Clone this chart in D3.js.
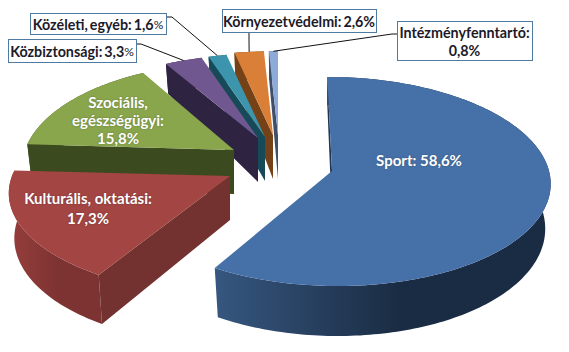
<!DOCTYPE html>
<html>
<head>
<meta charset="utf-8">
<script src="https://cdn.jsdelivr.net/npm/d3@7"></script>
<style>
  html, body { margin: 0; padding: 0; background: #fff; }
  svg { display: block; }
  text { font-family: Lato, "Open Sans", sans-serif; font-weight: 700; text-anchor: middle; dominant-baseline: central; }
  .inner { fill: #fff; font-size: 15px; text-shadow: 0 0 2px rgba(40,40,40,.4); }
  .boxed { fill: #1c1a2a; font-size: 14.3px; word-spacing: -1.5px; }
</style>
</head>
<body>
<svg id="chart" width="569" height="352"></svg>
<script>
'use strict';

const categories = ['Sport', 'Kulturális, oktatási', 'Szociális, egészségügyi', 'Közbiztonsági', 'Közéleti, egyéb', 'Környezetvédelmi', 'Intézményfenntartó'];
const shares = [58.6, 17.3, 15.8, 3.3, 1.6, 2.6, 0.8];

const topColors = ['#4671a8', '#a34543', '#8aa64c', '#71578f', '#3d95ad', '#d97f38', '#8eaad8'];
const faceColors = ['#1f3550', '#733130', '#3c4a20', '#2e2340', '#164a58', '#744216', '#414f68'];
const sideLeft = ['#36577f', '#963e3c', '#3c4a20', '#2e2340', '#164a58', '#744216', '#414f68'];
const sideRight = ['#1a2c43', '#7c3331', '#3c4a20', '#2e2340', '#164a58', '#744216', '#414f68'];

// where each exploded slice sits
const apexX = [332, 230, 234, 258, 265, 273, 278];
const apexY = [171, 176, 150, 138, 137, 135, 135];
const radiusX = [217, 218, 209, 212, 212, 212, 212];
const radiusY = [103.5, 98.5, 102, 98, 98, 98, 98];
const tilt = [0.1, 0.17, 0.17, 0.17, 0.17, 0.17, 0.17];
const shear = [0.05, 0, 0, 0, 0, 0, 0];

const innerLabels = [
  { i: 0, x: 419, lines: [[160, 'Sport: ' + pct(0)]] },
  { i: 1, x: 88, lines: [[198, 'Kulturális, oktatási:'], [218, pct(1)]] },
  { i: 2, x: 118, lines: [[102, 'Szociális,'], [120, 'egészségügyi:'], [138, pct(2)]] }
];
const boxLabels = [
  { i: 3, box: [8, 39, 128, 23], y: 51, line: [[136, 44], [141, 44]], small: true },
  { i: 4, box: [30, 13, 136, 21], y: 24, line: [[166, 17], [172, 17]], small: true },
  { i: 5, box: [222, 9, 154, 23], y: 21, line: [[249, 32], [249, 40]], small: false },
  { i: 6, box: [397, 21, 135, 39], y: 32, line: [[397, 34], [392, 34]], small: false, wrap: true }
];

function pct(i) {
  return shares[i].toFixed(1).replace('.', ',') + '%';
}

const svg = d3.select('#chart');
const defs = svg.append('defs');

const pie = d3.pie().sort(null).value(d => d).startAngle(0).endAngle(2 * Math.PI);
const arcs = pie(shares);

const depth = d3.scaleLinear().domain([-1, 0, 1]).range([50, 44, 28]);
const line = d3.line();

function topPoint(i, a) {
  const c = Math.cos(a), s = Math.sin(a);
  const p = 1 / (1 + tilt[i] * c);
  const X = radiusX[i] * s * p, Y = -radiusY[i] * c * p;
  return [apexX[i] + X + shear[i] * Y, apexY[i] + Y];
}

function bottomPoint(i, a) {
  const c = Math.cos(a), s = Math.sin(a);
  const p = 1 / (1 + tilt[i] * c);
  const X = radiusX[i] * s * p, Y = -radiusY[i] * c * p;
  return [apexX[i] + 0.975 * X + shear[i] * Y, apexY[i] + Y + depth(c)];
}

function sampleAngles(arc) {
  const n = Math.max(4, Math.ceil((arc.endAngle - arc.startAngle) / 0.02));
  return d3.range(n + 1).map(k => arc.startAngle + (arc.endAngle - arc.startAngle) * k / n);
}

// back slices first, sport last
d3.range(arcs.length - 1, -1, -1).forEach(i => {
  const arc = arcs[i];
  const angles = sampleAngles(arc);
  const apexTop = [apexX[i], apexY[i]];
  const apexBottom = [apexX[i], apexY[i] + depth(0)];
  const g = svg.append('g').attr('class', 'slice');

  const grad = defs.append('linearGradient').attr('id', 'side' + i);
  grad.append('stop').attr('offset', '0%').attr('stop-color', sideLeft[i]);
  grad.append('stop').attr('offset', '55%').attr('stop-color', sideRight[i]);

  // face along the start edge
  g.append('path')
    .attr('d', line([apexTop, topPoint(i, arc.startAngle), bottomPoint(i, arc.startAngle), apexBottom]) + 'Z')
    .attr('fill', faceColors[i]);

  // rim
  const rim = angles.map(a => topPoint(i, a)).concat(angles.slice().reverse().map(a => bottomPoint(i, a)));
  g.append('path')
    .attr('d', line(rim) + 'Z')
    .attr('fill', 'url(#side' + i + ')');

  // top
  g.append('path')
    .attr('d', line([apexTop].concat(angles.map(a => topPoint(i, a)))) + 'Z')
    .attr('fill', topColors[i]);
});

innerLabels.forEach(l => {
  l.lines.forEach(d => {
    svg.append('text').attr('class', 'inner').attr('x', l.x).attr('y', d[0]).text(d[1]);
  });
});

boxLabels.forEach(l => {
  const mid = (arcs[l.i].startAngle + arcs[l.i].endAngle) / 2;
  const end = topPoint(l.i, mid);
  svg.append('path')
    .attr('d', line(l.line.concat([end])))
    .attr('fill', 'none')
    .attr('stroke', '#111')
    .attr('stroke-width', 1);

  svg.append('rect')
    .attr('x', l.box[0] + 0.5).attr('y', l.box[1] + 0.5)
    .attr('width', l.box[2]).attr('height', l.box[3])
    .attr('fill', '#fff')
    .attr('stroke', '#4f7ba3');

  const cx = l.box[0] + l.box[2] / 2;
  if (l.wrap) {
    svg.append('text').attr('class', 'boxed').attr('x', cx).attr('y', l.y).text(categories[l.i] + ':');
    svg.append('text').attr('class', 'boxed').attr('x', cx).attr('y', l.y + 18).text(pct(l.i));
  } else {
    const t = svg.append('text').attr('class', 'boxed').attr('x', cx).attr('y', l.y);
    const v = pct(l.i);
    t.append('tspan').text(categories[l.i] + ': ' + (l.small ? v.slice(0, -1) : v));
    if (l.small) t.append('tspan').style('font-size', '12px').style('font-weight', 400).text('%');
  }
});
</script>
</body>
</html>
